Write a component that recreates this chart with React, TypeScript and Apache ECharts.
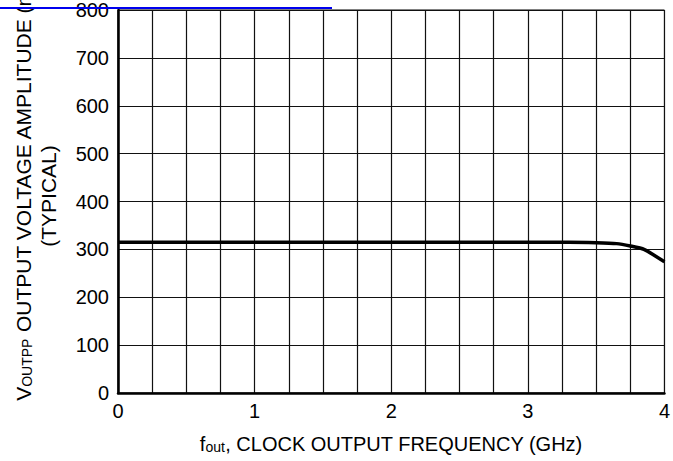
import React, { useEffect, useRef } from "react";
import * as echarts from "echarts";

const freqGHz = [0, 0.5, 1, 1.5, 2, 2.5, 3, 3.3, 3.5, 3.65, 3.75, 3.85, 4];
const amplitudeMv = [315, 315, 315, 315, 315, 315, 315, 315, 314, 312, 307, 300, 274];
const xTickLabels = ["0", "1", "2", "3", "4"];
const yTickLabels = ["0", "100", "200", "300", "400", "500", "600", "700", "800"];

const FONT = "'Liberation Sans', Arial, sans-serif";

export default function App() {
  const ref = useRef<HTMLDivElement>(null);
  useEffect(() => {
    document.body.style.margin = "0";
    if (!ref.current) return;
    const chart = echarts.init(ref.current, null, { renderer: "svg" });
    const data = freqGHz.map((f, i) => [f, amplitudeMv[i]]);
    chart.setOption({
      animation: false,
      backgroundColor: "#ffffff",
      grid: {
        left: 118,
        right: 7,
        top: 9,
        bottom: 68,
        show: true,
        borderColor: "#000",
        borderWidth: 1,
      },
      xAxis: {
        type: "value",
        min: 0,
        max: 4,
        interval: 0.25,
        axisLine: { show: true, onZero: false, lineStyle: { color: "#000", width: 2.5 } },
        axisTick: { show: false },
        splitLine: { show: true, lineStyle: { color: "#111", width: 1.2 } },
        axisLabel: {
          color: "#000",
          fontFamily: FONT,
          fontSize: 20,
          margin: 8,
          formatter: (v: number) => {
            const idx = Math.round(v);
            return Math.abs(v - idx) < 1e-6 ? xTickLabels[idx] ?? "" : "";
          },
        },
        name: "{n|f}{sub|out}{n|, CLOCK OUTPUT FREQUENCY (GHz)}",
        nameLocation: "middle",
        nameGap: 38,
        nameTextStyle: {
          rich: {
            n: { fontFamily: FONT, fontSize: 20, color: "#000", verticalAlign: "bottom", lineHeight: 23 },
            sub: { fontFamily: FONT, fontSize: 14, color: "#000", verticalAlign: "bottom", lineHeight: 16, padding: [7, 0, 0, 0] },
          },
        },
      },
      yAxis: {
        type: "value",
        min: 0,
        max: 800,
        interval: 100,
        axisLine: { show: true, lineStyle: { color: "#000", width: 2.5 } },
        axisTick: { show: false },
        splitLine: { show: true, lineStyle: { color: "#111", width: 1.2 } },
        axisLabel: {
          color: "#000",
          fontFamily: FONT,
          fontSize: 20,
          margin: 9,
          formatter: (v: number) => yTickLabels[Math.round(v / 100)] ?? "",
        },
      },
      graphic: [
        {
          type: "text",
          x: 22,
          y: 184,
          rotation: Math.PI / 2,
          style: {
            text: "{n|V}{sub|OUTPP}{n| OUTPUT VOLTAGE AMPLITUDE (mV)}",
            align: "center",
            verticalAlign: "middle",
            rich: {
              n: { fontFamily: FONT, fontSize: 21, fill: "#000", verticalAlign: "bottom", lineHeight: 24 },
              sub: { fontFamily: FONT, fontSize: 14, fill: "#000", verticalAlign: "bottom", lineHeight: 16, padding: [8, 0, 0, 0] },
            },
          },
        },
        {
          type: "text",
          x: 48,
          y: 196,
          rotation: Math.PI / 2,
          style: {
            text: "(TYPICAL)",
            fontFamily: FONT,
            fontSize: 21,
            fill: "#000",
            align: "center",
            verticalAlign: "middle",
          },
        },
        {
          type: "line",
          shape: { x1: 0, y1: 8, x2: 332, y2: 8 },
          style: { stroke: "#0000ee", lineWidth: 2 },
          z: 100,
        },
      ],
      series: [
        {
          type: "line",
          data,
          showSymbol: false,
          smooth: 0.2,
          lineStyle: { color: "#000", width: 3.5 },
        },
      ],
    });
    return () => chart.dispose();
  }, []);
  return <div ref={ref} style={{ width: 673, height: 461 }} />;
}
